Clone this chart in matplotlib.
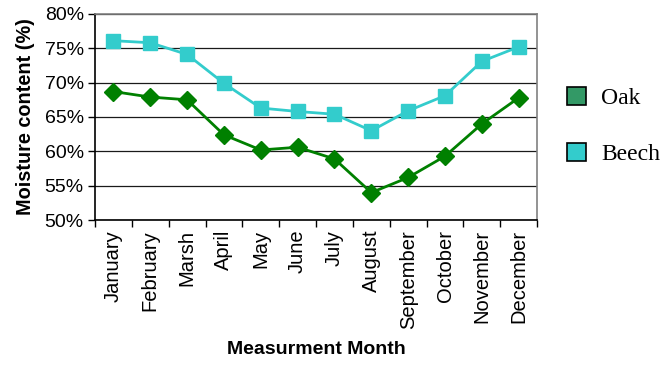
import matplotlib
matplotlib.use("Agg")
import matplotlib.pyplot as plt
from matplotlib.patches import Patch
from matplotlib.ticker import FuncFormatter, FixedLocator
import numpy as np

months = ["January", "February", "Marsh", "April", "May", "June", "July",
          "August", "September", "October", "November", "December"]
oak = [68.7, 67.9, 67.5, 62.4, 60.2, 60.6, 58.9, 54.0, 56.2, 59.3, 64.0, 67.8]
beech = [76.1, 75.8, 74.1, 69.9, 66.3, 65.8, 65.4, 63.0, 65.9, 68.1, 73.1, 75.2]

sans = "Liberation Sans"
serif = "Liberation Serif"

fig = plt.figure(figsize=(6.64, 3.65), dpi=100)
ax = fig.add_axes([0.143, 0.397, 0.666, 0.565])

x = np.arange(len(months))
ax.plot(x, oak, color="#008000", lw=2.0, marker="D", ms=9.5,
        markerfacecolor="#008000", markeredgecolor="#008000", zorder=3)
ax.plot(x, beech, color="#33CCCC", lw=2.0, marker="s", ms=9.5,
        markerfacecolor="#33CCCC", markeredgecolor="#33CCCC", zorder=3)

ax.set_xlim(-0.5, len(months) - 0.5)
ax.set_ylim(50, 80)
ax.set_yticks(np.arange(50, 81, 5))
ax.yaxis.set_major_formatter(FuncFormatter(lambda v, p: f"{v:.0f}%"))
ax.yaxis.grid(True, color="#1a1a1a", lw=0.9)
ax.set_axisbelow(True)

# category labels centred, ticks on category boundaries
ax.xaxis.set_major_locator(FixedLocator(np.arange(-0.5, len(months), 1.0)))
ax.xaxis.set_minor_locator(FixedLocator(x))
ax.set_xticklabels([])
ax.set_xticklabels(months, minor=True, rotation=90, fontfamily=sans, fontsize=14.5)
ax.tick_params(axis="x", which="major", length=5, width=1, color="black", direction="out")
ax.tick_params(axis="x", which="minor", length=0, pad=7)
ax.tick_params(axis="y", length=5, width=1, direction="out", pad=3)
for lab in ax.get_yticklabels():
    lab.set_fontfamily(sans)
    lab.set_fontsize(14)

for side in ("top", "right"):
    ax.spines[side].set_color("#808080")
    ax.spines[side].set_linewidth(1.2)
for side in ("left", "bottom"):
    ax.spines[side].set_color("black")
    ax.spines[side].set_linewidth(1.2)

ax.set_xlabel("Measurment Month", fontfamily=sans, fontsize=14, fontweight="bold", labelpad=9)
ax.set_ylabel("Moisture content (%)", fontfamily=sans, fontsize=14.3, fontweight="bold", labelpad=7)

handles = [Patch(facecolor="#339966", edgecolor="black", lw=1.2, label="Oak"),
           Patch(facecolor="#33CCCC", edgecolor="black", lw=1.2, label="Beech")]
fig.legend(handles=handles, loc="center left", bbox_to_anchor=(0.84, 0.655),
           frameon=False, prop={"family": serif, "size": 17},
           handlelength=0.8, handleheight=0.8, handletextpad=0.65,
           labelspacing=1.45, borderaxespad=0)

fig.savefig("out.png", dpi=100)
